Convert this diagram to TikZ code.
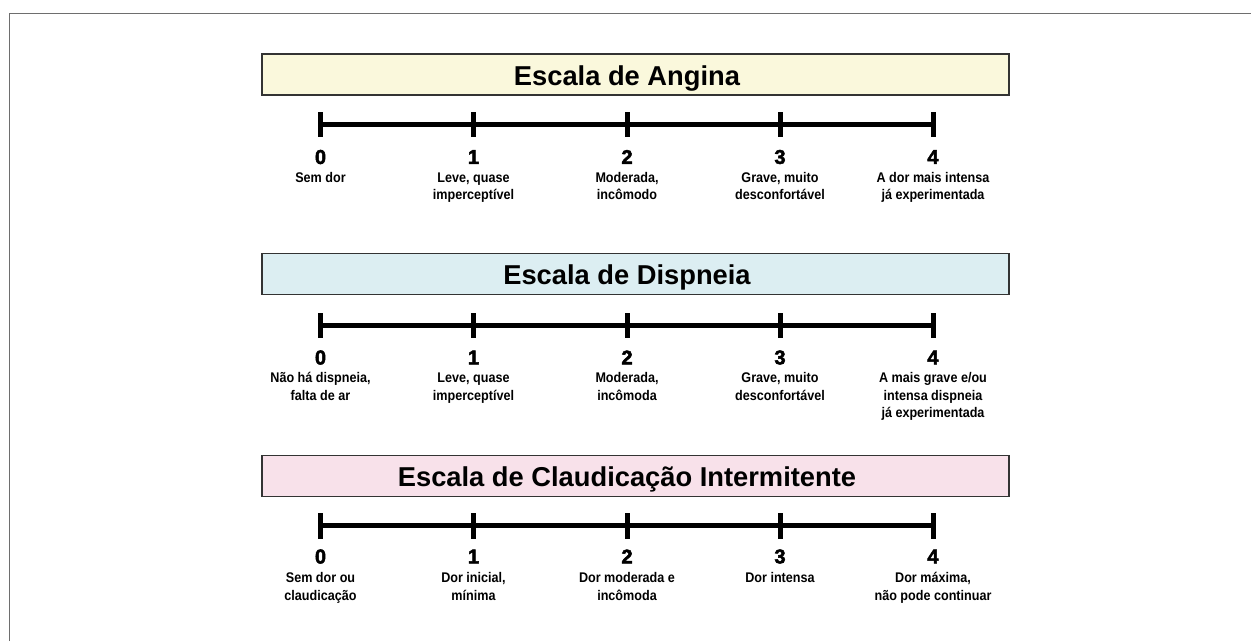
\documentclass[tikz,border=0pt]{standalone}
\usepackage{fontspec}
\setmainfont{Liberation Sans}
\newfontfamily\labfont{Liberation Sans}[FakeStretch=0.9]
\newfontfamily\numfont{Liberation Sans}[FakeBold=2.5]
\definecolor{frame}{HTML}{6E6E6E}
\definecolor{boxline}{HTML}{333333}
\definecolor{yellowbg}{HTML}{FAF8DC}
\definecolor{bluebg}{HTML}{DCEEF2}
\definecolor{pinkbg}{HTML}{F8E1EA}
\tikzset{
  titlebox/.style={draw=boxline, line width=1.5pt, minimum width=747pt, inner xsep=0pt,
    inner ysep=8pt, text height=23pt, text depth=2pt,
    font=\bfseries\fontsize{27.3}{30}\selectfont},
  tickmark/.style={rectangle, fill=black, minimum width=5pt, minimum height=25.6pt, inner sep=0pt},
  axisline/.style={line width=5pt},
  numlabel/.style={inner sep=0pt, font=\numfont\bfseries\fontsize{20}{22}\selectfont},
  desclabel/.style={anchor=north, inner sep=0pt, align=center,
    font=\labfont\bfseries\fontsize{14}{17.6}\selectfont},
}
\newcommand{\fl}{\rule{0pt}{11pt}}
\newcommand{\tshift}{\kern17pt\rule{0pt}{1pt}}
\begin{document}
\begin{tikzpicture}[x=1pt,y=-1pt]
\useasboundingbox (0,0) rectangle (1251,641);
\draw[frame, line width=1.5pt] (9.5,641) -- (9.5,13.5) -- (1251,13.5);

% ---------- Angina ----------
\node[titlebox, fill=yellowbg] (tA) at (635.5,74.5) {Escala de Angina\tshift};
\foreach \i/\x in {0/320.5,1/473.5,2/627,3/780,4/933}{
  \node[tickmark] (a\i) at (\x,124.5) {};
}
\draw[axisline] (a0.center) -- (a1.center) -- (a2.center) -- (a3.center) -- (a4.center);
\foreach \i/\x in {0/320.5,1/473.5,2/627,3/780,4/933}{
  \node[numlabel] (na\i) at (\x,157) {\i};
}
\node[desclabel] (la0) at (320.5,171) {\fl Sem dor};
\node[desclabel] (la1) at (473.5,171) {\fl Leve, quase\\imperceptível};
\node[desclabel] (la2) at (627,171) {\fl Moderada,\\incômodo};
\node[desclabel] (la3) at (780,171) {\fl Grave, muito\\desconfortável};
\node[desclabel] (la4) at (933,171) {\fl A dor mais intensa\\já experimentada};

% ---------- Dispneia ----------
\node[titlebox, fill=bluebg] (tD) at (635.5,274) {Escala de Dispneia\tshift};
\foreach \i/\x in {0/320.5,1/473.5,2/627,3/780,4/933}{
  \node[tickmark] (d\i) at (\x,325.5) {};
}
\draw[axisline] (d0.center) -- (d1.center) -- (d2.center) -- (d3.center) -- (d4.center);
\foreach \i/\x in {0/320.5,1/473.5,2/627,3/780,4/933}{
  \node[numlabel] (nd\i) at (\x,357.5) {\i};
}
\node[desclabel] (ld0) at (320.5,371.3) {\fl Não há dispneia,\\falta de ar};
\node[desclabel] (ld1) at (473.5,371.3) {\fl Leve, quase\\imperceptível};
\node[desclabel] (ld2) at (627,371.3) {\fl Moderada,\\incômoda};
\node[desclabel] (ld3) at (780,371.3) {\fl Grave, muito\\desconfortável};
\node[desclabel] (ld4) at (933,371.3) {\fl A mais grave e/ou\\intensa dispneia\\já experimentada};

% ---------- Claudicacao ----------
\node[titlebox, fill=pinkbg] (tC) at (635.5,476) {Escala de Claudicação Intermitente\tshift};
\foreach \i/\x in {0/320.5,1/473.5,2/627,3/780,4/933}{
  \node[tickmark] (c\i) at (\x,525.7) {};
}
\draw[axisline] (c0.center) -- (c1.center) -- (c2.center) -- (c3.center) -- (c4.center);
\foreach \i/\x in {0/320.5,1/473.5,2/627,3/780,4/933}{
  \node[numlabel] (nc\i) at (\x,556.5) {\i};
}
\node[desclabel] (lc0) at (320.5,571.3) {\fl Sem dor ou\\claudicação};
\node[desclabel] (lc1) at (473.5,571.3) {\fl Dor inicial,\\mínima};
\node[desclabel] (lc2) at (627,571.3) {\fl Dor moderada e\\incômoda};
\node[desclabel] (lc3) at (780,571.3) {\fl Dor intensa};
\node[desclabel] (lc4) at (933,571.3) {\fl Dor máxima,\\não pode continuar};
\end{tikzpicture}
\end{document}
